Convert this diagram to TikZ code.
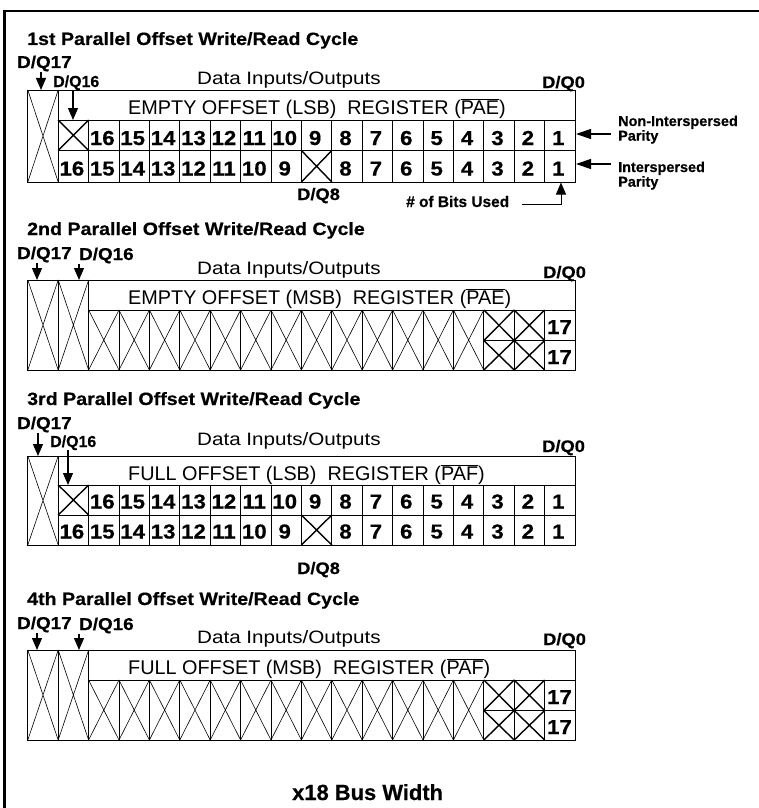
\documentclass[tikz,border=0pt]{standalone}
\usepackage{fontspec}
\usetikzlibrary{arrows.meta}
\setmainfont{Liberation Sans}
\newfontfamily\fA{Liberation Sans}[FakeStretch=1.1, BoldFeatures={FakeBold=0.5}]
\newfontfamily\fC{Liberation Sans}[FakeStretch=1.15]
\newfontfamily\fN{Liberation Sans}[BoldFeatures={FakeBold=0.5}]
\tikzset{
  frm/.style={line width=1bp},
  grid/.style={line width=0.9bp},
  xthin/.style={line width=0.6bp},
  xthick/.style={line width=1.4bp},
  ttl/.style={anchor=base west, inner sep=0pt, font=\fA\bfseries\fontsize{17.9}{20}\selectfont},
  dq/.style={anchor=base west, inner sep=0pt, font=\fA\bfseries\fontsize{17.2}{19}\selectfont},
  dqs/.style={anchor=base west, inner sep=0pt, font=\fN\bfseries\fontsize{16}{17}\selectfont},
  dqm/.style={anchor=base west, inner sep=0pt, font=\fA\bfseries\fontsize{16.7}{18}\selectfont},
  dio/.style={anchor=base west, inner sep=0pt, font=\fC\fontsize{18}{20}\selectfont},
  regcap/.style={anchor=base west, inner sep=0pt, font=\fN\fontsize{19.9}{22}\selectfont},
  num/.style={anchor=base, inner sep=0pt, font=\fA\bfseries\fontsize{20.3}{22}\selectfont},
  side/.style={anchor=base west, inner sep=0pt, font=\fN\bfseries\fontsize{14.5}{16}\selectfont},
  bitslbl/.style={anchor=base west, inner sep=0pt, font=\fN\bfseries\fontsize{15.5}{17}\selectfont},
  buslbl/.style={anchor=base west, inner sep=0pt, font=\fN\bfseries\fontsize{22}{24}\selectfont},
  arr/.style={line width=1.3bp, -{Triangle[length=12bp,width=10bp]}},
  arrh/.style={line width=1.2bp, -{Triangle[length=15bp,width=10bp]}},
}
% LSB-style block: prefix, top, row1 top, row2 top, bottom, digit baseline offset
\newcommand\lsbblock[6]{%
  \draw[frm] (27.8,#2) rectangle (575,#5);
  \draw[grid] (58.2,#2) -- (58.2,#5);
  \draw[grid] (58.2,#3) -- (575,#3) (58.2,#4) -- (575,#4);
  \foreach \i in {2,...,17} \draw[grid] ({27.8+\i*30.4},#3) -- ({27.8+\i*30.4},#5);
  \draw[xthin] (27.8,#2) -- (58.2,#5) (58.2,#2) -- (27.8,#5);
  \draw[xthick] (58.2,#3) -- (88.6,#4) (88.6,#3) -- (58.2,#4);
  \draw[xthick] (301.4,#4) -- (331.8,#5) (331.8,#4) -- (301.4,#5);
  \foreach \n [count=\c from 2] in {16,...,1}
    \node[num] (#1u\c) at ({27.8+(\c+0.5)*30.4-1.5},{#3+#6}) {\n};
  \foreach \n [count=\c from 1] in {16,...,9}
    \node[num] (#1l\c) at ({27.8+(\c+0.5)*30.4-1.5},{#4+#6}) {\n};
  \foreach \n [count=\c from 10] in {8,...,1}
    \node[num] (#1l\c) at ({27.8+(\c+0.5)*30.4-1.5},{#4+#6}) {\n};
}
% MSB-style block: prefix, top, row1 top, row2 top, bottom
\newcommand\msbblock[5]{%
  \draw[frm] (27.8,#2) rectangle (575,#5);
  \draw[grid] (58.2,#2) -- (58.2,#5) (88.6,#2) -- (88.6,#5);
  \draw[grid] (88.6,#3) -- (575,#3);
  \draw[grid] (483.8,#4) -- (575,#4);
  \foreach \i in {3,...,17} \draw[grid] ({27.8+\i*30.4},#3) -- ({27.8+\i*30.4},#5);
  \foreach \i in {0,1} \draw[xthin] ({27.8+\i*30.4},#2) -- ({27.8+(\i+1)*30.4},#5)
      ({27.8+(\i+1)*30.4},#2) -- ({27.8+\i*30.4},#5);
  \foreach \i in {2,...,14} \draw[xthin] ({27.8+\i*30.4},#3) -- ({27.8+(\i+1)*30.4},#5)
      ({27.8+(\i+1)*30.4},#3) -- ({27.8+\i*30.4},#5);
  \foreach \i in {15,16} \draw[xthick]
      ({27.8+\i*30.4},#3) -- ({27.8+(\i+1)*30.4},#4) ({27.8+(\i+1)*30.4},#3) -- ({27.8+\i*30.4},#4)
      ({27.8+\i*30.4},#4) -- ({27.8+(\i+1)*30.4},#5) ({27.8+(\i+1)*30.4},#4) -- ({27.8+\i*30.4},#5);
  \node[num] (#1u17) at (559.5,{#3+24}) {17};
  \node[num] (#1l17) at (559.5,{#4+23.5}) {17};
}
\begin{document}
\begin{tikzpicture}[x=1bp,y=-1bp]
\useasboundingbox (0,0) rectangle (759,808);
% outer frame (left and top edges)
\draw[line width=2.4bp] (4.3,808) -- (4.3,11) -- (759,11);

% ===== Block 1 =====
\node[ttl] (t1) at (27,45) {1st Parallel Offset Write/Read Cycle};
\node[dq] (b1dq17) at (17,68) {D/Q17};
\node[dqs] (b1dq16) at (53,87) {D/Q16};
\node[dio] (b1dio) at (197,84) {Data Inputs/Outputs};
\node[dqm] (b1dq0) at (542,88) {D/Q0};
\lsbblock{b1}{90}{120}{150.5}{182}{25}
\node[regcap] (b1cap) at (128,114) {EMPTY OFFSET (LSB)\ \ REGISTER ($\overline{\hbox{PAE}}$)};
\node[dqm] (b1dq8) at (297,200) {D/Q8};
\coordinate (b1a17) at (41,90);
\coordinate (b1a16) at (73,120);
\draw[arr] (b1dq17.south -| b1a17) -- (b1a17);
\draw[arr] (b1dq16.south -| b1a16) -- (b1a16);
\node[side] (nonint) at (618,126) {Non-Interspersed};
\node[side] (nonintp) at (618,140.7) {Parity};
\node[side] (inter) at (618,172) {Interspersed};
\node[side] (interp) at (618,186.7) {Parity};
\coordinate (pa0) at (611,134);
\coordinate (pa1) at (576,134);
\coordinate (pb0) at (611,164);
\coordinate (pb1) at (576,164);
\draw[arrh] (pa0) -- (pa1);
\draw[arrh] (pb0) -- (pb1);
\node[bitslbl] (bits) at (406,207) {\# of Bits Used};
\coordinate (bits0) at (522,204);
\coordinate (bits1) at (561,182.5);
\draw[arr, line width=1bp] (bits0) -| (bits1);

% ===== Block 2 =====
\node[ttl] (t2) at (27,235) {2nd Parallel Offset Write/Read Cycle};
\node[dq] (b2dq17) at (17,259) {D/Q17};
\node[dq] (b2dq16) at (79,260) {D/Q16};
\node[dio] (b2dio) at (197,274) {Data Inputs/Outputs};
\node[dqm] (b2dq0) at (543,278) {D/Q0};
\msbblock{b2}{280}{310}{340.5}{370}
\node[regcap] (b2cap) at (128,304) {EMPTY OFFSET (MSB)\ \ REGISTER ($\overline{\hbox{PAE}}$)};
\coordinate (b2a17) at (37,280);
\coordinate (b2a16) at (79,280);
\draw[arr] (b2dq17.south -| b2a17) -- (b2a17);
\draw[arr] (b2dq16.south -| b2a16) -- (b2a16);

% ===== Block 3 =====
\node[ttl] (t3) at (27,405) {3rd Parallel Offset Write/Read Cycle};
\node[dq] (b3dq17) at (17,429) {D/Q17};
\node[dqs] (b3dq16) at (50,447) {D/Q16};
\node[dio] (b3dio) at (197,445) {Data Inputs/Outputs};
\node[dqm] (b3dq0) at (542,452) {D/Q0};
\lsbblock{b3}{456}{485}{515}{545}{23.5}
\node[regcap] (b3cap) at (128,480.5) {FULL OFFSET (LSB)\ \ REGISTER ($\overline{\hbox{PAF}}$)};
\node[dqm] (b3dq8) at (297,574) {D/Q8};
\coordinate (b3a17) at (38,456);
\coordinate (b3a16) at (68,485);
\draw[arr] (b3dq17.south -| b3a17) -- (b3a17);
\draw[arr] (b3dq16.south -| b3a16) -- (b3a16);

% ===== Block 4 =====
\node[ttl] (t4) at (27,605) {4th Parallel Offset Write/Read Cycle};
\node[dq] (b4dq17) at (17,629) {D/Q17};
\node[dq] (b4dq16) at (79,630) {D/Q16};
\node[dio] (b4dio) at (197,643) {Data Inputs/Outputs};
\node[dqm] (b4dq0) at (543,645) {D/Q0};
\msbblock{b4}{650}{680}{710.5}{740}
\node[regcap] (b4cap) at (128,674) {FULL OFFSET (MSB)\ \ REGISTER ($\overline{\hbox{PAF}}$)};
\coordinate (b4a17) at (37,650);
\coordinate (b4a16) at (79,650);
\draw[arr] (b4dq17.south -| b4a17) -- (b4a17);
\draw[arr] (b4dq16.south -| b4a16) -- (b4a16);

\node[buslbl] (bus) at (292,800) {x18 Bus Width};
\end{tikzpicture}
\end{document}
